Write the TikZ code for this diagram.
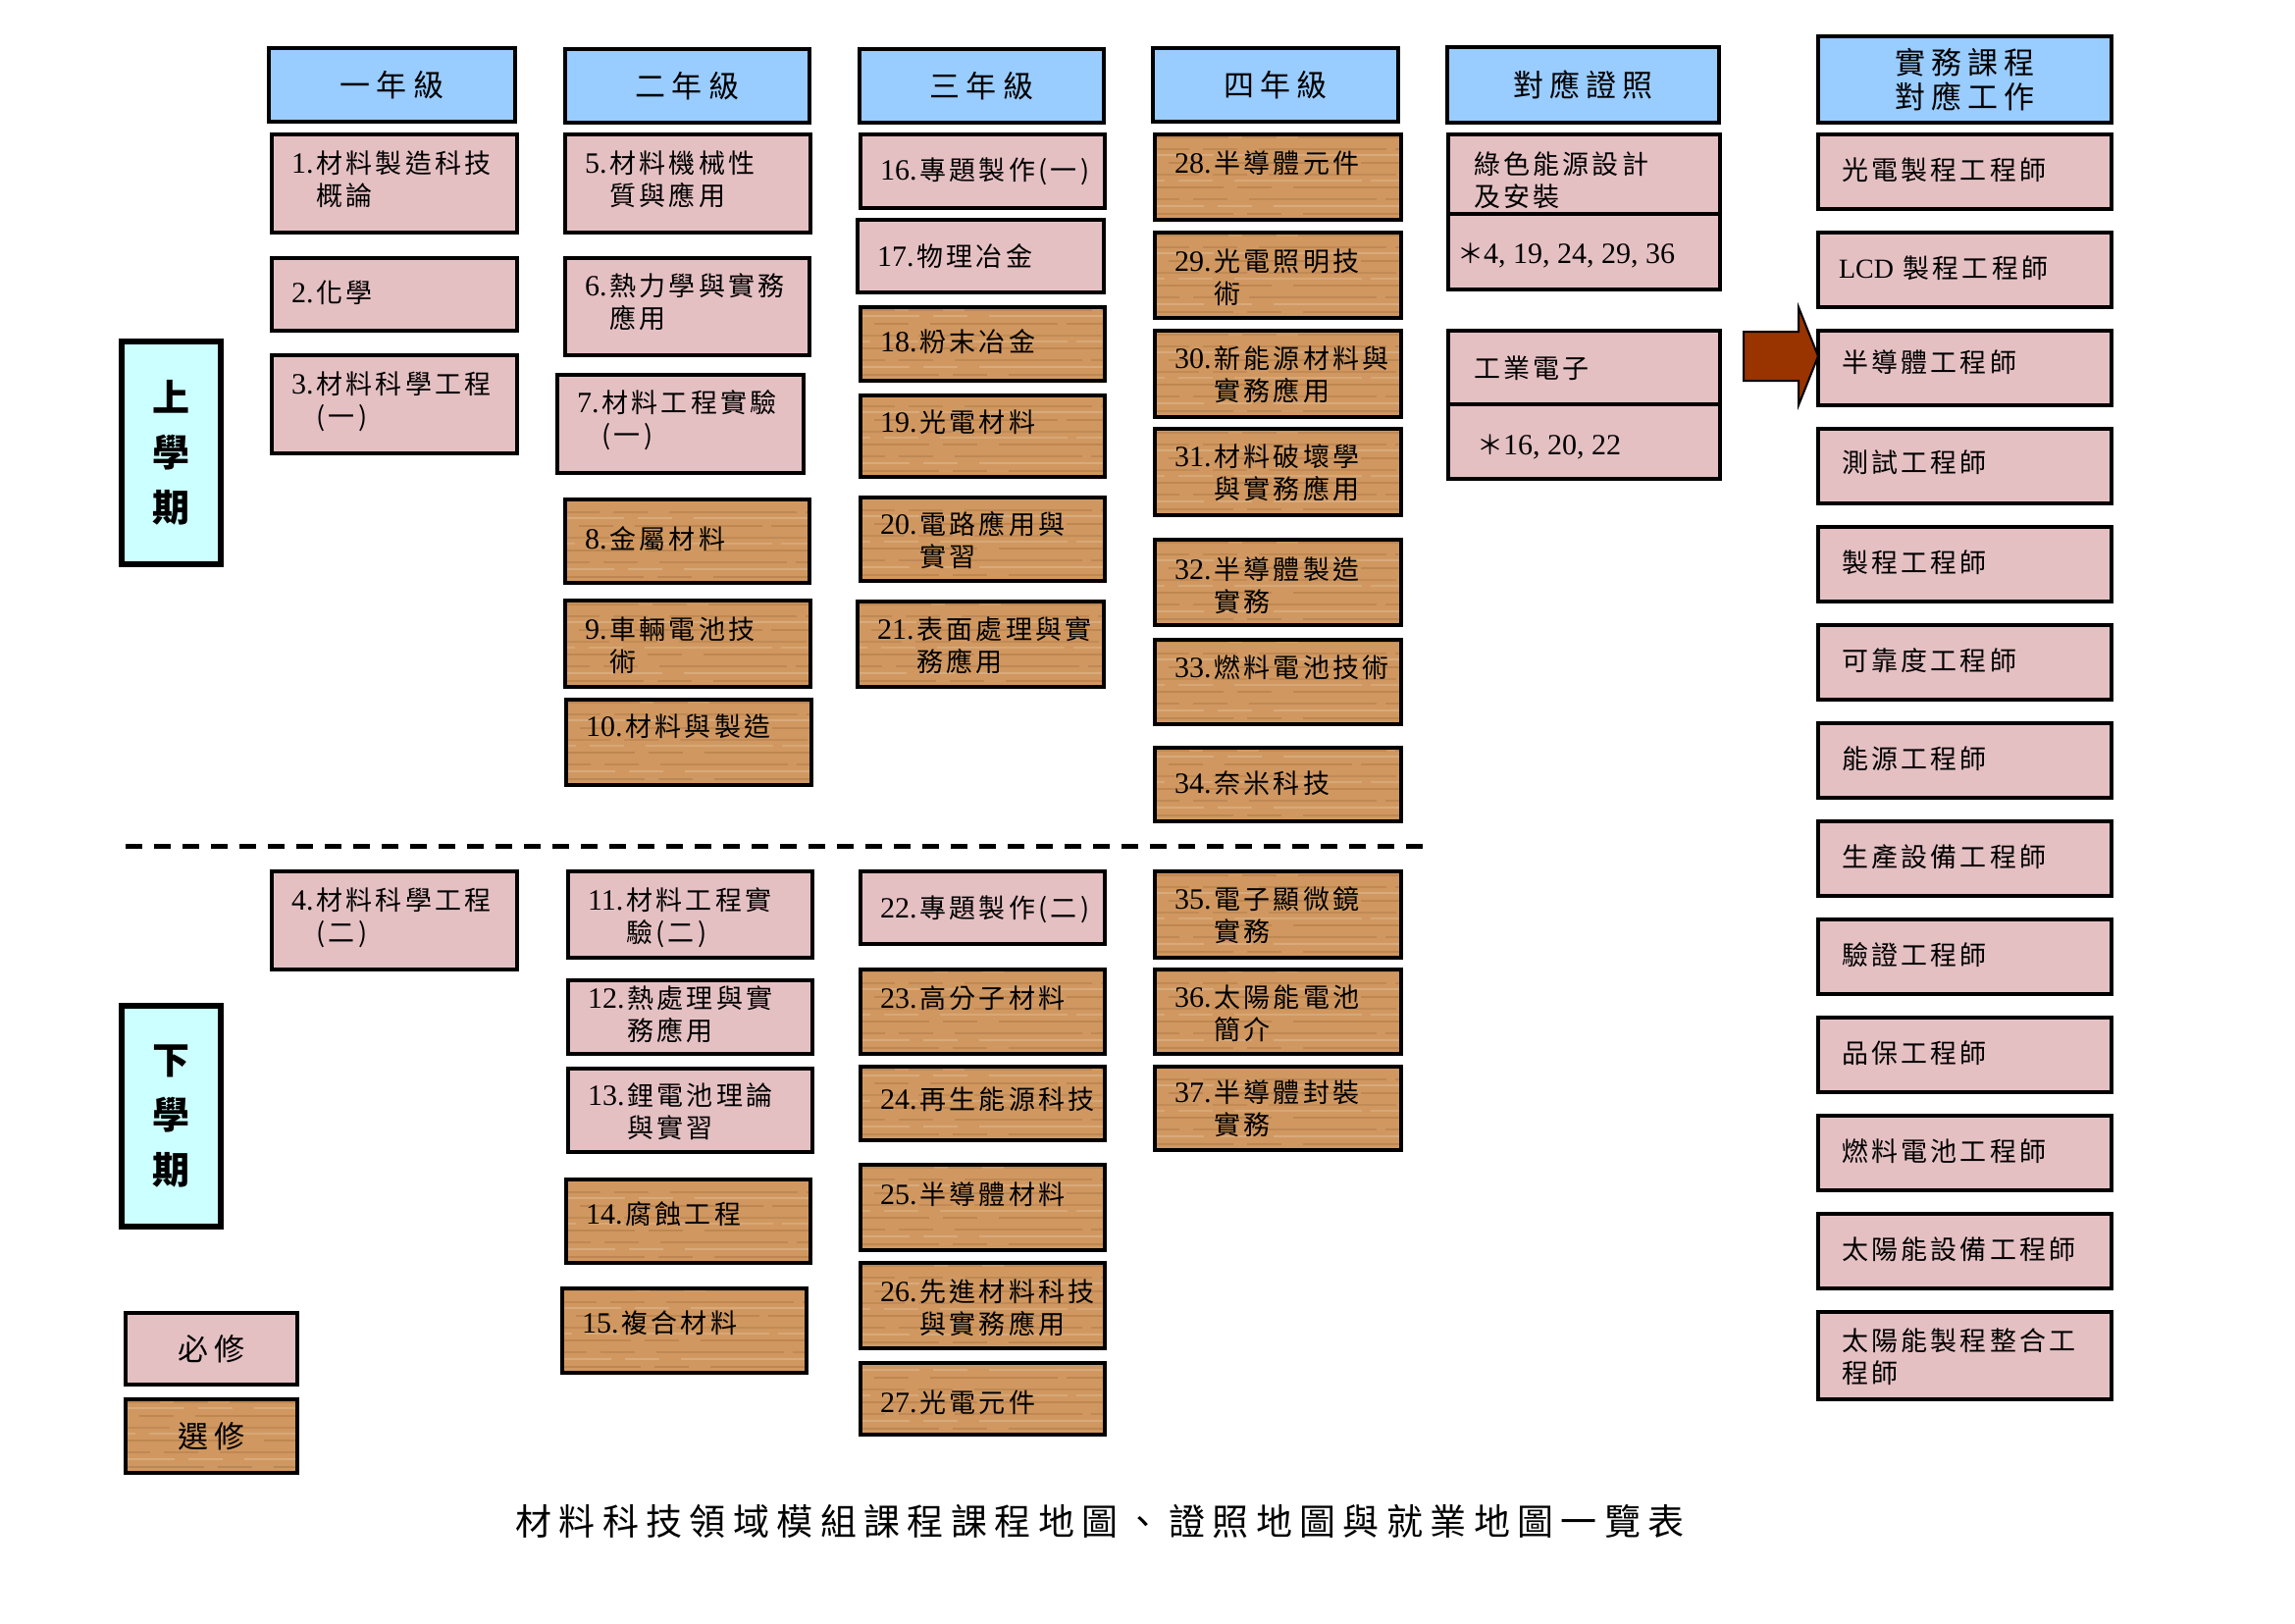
\documentclass[tikz,border=0pt]{standalone}
\usepackage{fontspec}
\setmainfont{Noto Sans CJK TC}
\newfontfamily\cjk{Noto Sans CJK TC}[LetterSpace=12]
\newfontfamily\hdf{Noto Sans CJK TC}[LetterSpace=20]
\newfontfamily\lat{Liberation Serif}
\usetikzlibrary{calc}

\definecolor{headblue}{RGB}{153,204,255}
\definecolor{sidecyan}{RGB}{204,255,255}
\definecolor{pinkc}{RGB}{229,192,195}
\definecolor{woodc}{RGB}{208,152,96}
\definecolor{grainc}{RGB}{145,92,45}
\definecolor{arrowc}{RGB}{153,51,0}

\newcommand\cnum[1]{{\lat\fontsize{30}{33}\selectfont #1}}

\tikzset{
  frame/.style={draw=black, line width=3.5pt, inner sep=0pt, outer sep=0pt},
  headbox/.style={frame, fill=headblue, font=\hdf\fontsize{31}{35}\selectfont, align=center},
  pinkbox/.style={frame, fill=pinkc},
  woodbox/.style={frame, fill=woodc, path picture={
      \foreach \yy/\ph/\op/\cc in {6/0/.28/grainc, 14/30/.18/white, 21/55/.25/grainc, 33/10/.28/grainc,
                                 40/70/.15/white, 46/35/.22/grainc, 58/80/.28/grainc, 66/20/.18/white,
                                 72/45/.25/grainc, 84/5/.25/grainc, 93/60/.22/grainc}{
        \draw[color=\cc, line width=1.2pt, opacity=\op,
              dash pattern=on 80pt off 14pt on 35pt off 22pt on 130pt off 9pt, dash phase=\ph pt]
          ([yshift=\yy pt]path picture bounding box.south west) --
          ([yshift=\yy pt]path picture bounding box.south east);
      }}},
  ctext/.style={font=\cjk\fontsize{27}{33}\selectfont, inner sep=0pt, outer sep=0pt},
  sidebox/.style={draw=black, line width=6pt, fill=sidecyan, inner sep=0pt,
      font=\cjk\bfseries\fontsize{38}{56}\selectfont, align=center},
  legtext/.style={font=\hdf\fontsize{31}{35}\selectfont},
  dashline/.style={line width=5pt, dash pattern=on 17pt off 12pt},
  arrowst/.style={draw=black, line width=2pt, fill=arrowc, line join=miter},
  titlef/.style={font=\hdf\fontsize{37}{40}\selectfont, inner sep=0pt}
}

% generic box: name, style, x1, y1, x2, y2, text x, text centre y, text
\newcommand\tbox[9]{%
  \node[#2, minimum width={#5-#3}, minimum height={#6-#4}] (#1) at ({(#3+#5)/2},{(#4+#6)/2}) {};
  \node[ctext, anchor=base west] (#1t) at ({#7},{#8+10}) {#9};}
% course box: name, style, x1, y1, x2, y2, text centre y, number, text
\newcommand\crs[9]{\tbox{#1}{#2}{#3}{#4}{#5}{#6}{#3+20}{#7}{\cnum{#8}\hspace{3pt}\begin{tabular}[t]{@{}l@{}}#9\end{tabular}}}
% header
\newcommand\hd[6]{\node[headbox, minimum width={#4-#2}, minimum height={#5-#3}] (#1) at ({(#2+#4)/2},{(#3+#5)/2}) {#6};}

\begin{document}
\begin{tikzpicture}[x=1pt,y=-1pt]
\useasboundingbox (0,0) rectangle (2339,1654);
\fill[white] (0,0) rectangle (2339,1654);

% headers
\hd{h1}{274}{49}{525}{124}{一年級}
\hd{h2}{576}{50}{825}{125}{二年級}
\hd{h3}{876}{50}{1125}{125}{三年級}
\hd{h4}{1175}{49}{1425}{124}{四年級}
\hd{h5}{1475}{48}{1752}{125}{對應證照}
\hd{h6}{1853}{37}{2152}{125}{實務課程\\對應工作}

% semester labels
\node[sidebox, minimum width=101, minimum height=227] (s1) at (174.5,461.5) {上\\學\\期};
\node[sidebox, minimum width=101, minimum height=225] (s2) at (174.5,1137.5) {下\\學\\期};

% legend
\node[pinkbox, legtext, minimum width=175, minimum height=73] (lg1) at (215.5,1374.5) {必修};
\node[woodbox, legtext, minimum width=175, minimum height=75] (lg2) at (215.5,1463.5) {選修};

% dashed semester divider
\coordinate (dl1) at (128,862);
\coordinate (dl2) at (1454,862);
\draw[dashline] (dl1) -- (dl2);

% year 1
\crs{c1}{pinkbox}{277}{137}{527}{237}{166}{1.}{材料製造科技\\概論}
\crs{c2}{pinkbox}{277}{263}{527}{337}{298}{2.}{化學}
\crs{c3}{pinkbox}{277}{362}{527}{462}{391}{3.}{材料科學工程\\(一)}
\crs{c4}{pinkbox}{277}{888}{527}{988}{917}{4.}{材料科學工程\\(二)}
% year 2
\crs{c5}{pinkbox}{576}{137}{826}{237}{166}{5.}{材料機械性\\質與應用}
\crs{c6}{pinkbox}{576}{263}{825}{362}{291}{6.}{熱力學與實務\\應用}
\crs{c7}{pinkbox}{568}{382}{819}{482}{410}{7.}{材料工程實驗\\(一)}
\crs{c8}{woodbox}{576}{509}{825}{594}{549}{8.}{金屬材料}
\crs{c9}{woodbox}{576}{612}{826}{700}{641}{9.}{車輛電池技\\術}
\crs{c10}{woodbox}{577}{713}{827}{800}{740}{10.}{材料與製造}
\crs{c11}{pinkbox}{579}{888}{828}{976}{917}{11.}{材料工程實\\驗(二)}
\crs{c12}{pinkbox}{579}{999}{828}{1074}{1017}{12.}{熱處理與實\\務應用}
\crs{c13}{pinkbox}{579}{1089}{828}{1174}{1116}{13.}{鋰電池理論\\與實習}
\crs{c14}{woodbox}{577}{1202}{826}{1287}{1237}{14.}{腐蝕工程}
\crs{c15}{woodbox}{573}{1313}{822}{1399}{1348}{15.}{複合材料}
% year 3
\crs{c16}{pinkbox}{877}{137}{1126}{212}{173}{16.}{專題製作(一)}
\crs{c17}{pinkbox}{874}{224}{1125}{298}{261}{17.}{物理冶金}
\crs{c18}{woodbox}{877}{313}{1126}{388}{348}{18.}{粉末冶金}
\crs{c19}{woodbox}{877}{403}{1126}{486}{430}{19.}{光電材料}
\crs{c20}{woodbox}{877}{507}{1126}{592}{534}{20.}{電路應用與\\實習}
\crs{c21}{woodbox}{874}{613}{1125}{700}{641}{21.}{表面處理與實\\務應用}
\crs{c22}{pinkbox}{877}{888}{1126}{962}{925}{22.}{專題製作(二)}
\crs{c23}{woodbox}{877}{988}{1126}{1074}{1017}{23.}{高分子材料}
\crs{c24}{woodbox}{877}{1087}{1126}{1162}{1120}{24.}{再生能源科技}
\crs{c25}{woodbox}{877}{1187}{1126}{1274}{1217}{25.}{半導體材料}
\crs{c26}{woodbox}{877}{1287}{1126}{1374}{1316}{26.}{先進材料科技\\與實務應用}
\crs{c27}{woodbox}{877}{1389}{1126}{1462}{1429}{27.}{光電元件}
% year 4
\crs{c28}{woodbox}{1177}{137}{1428}{224}{166}{28.}{半導體元件}
\crs{c29}{woodbox}{1177}{237}{1428}{324}{266}{29.}{光電照明技\\術}
\crs{c30}{woodbox}{1177}{337}{1428}{425}{365}{30.}{新能源材料與\\實務應用}
\crs{c31}{woodbox}{1177}{437}{1428}{525}{465}{31.}{材料破壞學\\與實務應用}
\crs{c32}{woodbox}{1177}{550}{1428}{637}{580}{32.}{半導體製造\\實務}
\crs{c33}{woodbox}{1177}{652}{1428}{738}{680}{33.}{燃料電池技術}
\crs{c34}{woodbox}{1177}{762}{1428}{837}{798}{34.}{奈米科技}
\crs{c35}{woodbox}{1177}{888}{1428}{976}{916}{35.}{電子顯微鏡\\實務}
\crs{c36}{woodbox}{1177}{988}{1428}{1074}{1016}{36.}{太陽能電池\\簡介}
\crs{c37}{woodbox}{1177}{1087}{1428}{1172}{1113}{37.}{半導體封裝\\實務}

% certificates
\tbox{k1a}{pinkbox}{1476}{137}{1753}{218}{1502}{167}{\begin{tabular}[t]{@{}l@{}}綠色能源設計\\及安裝\end{tabular}}
\tbox{k1b}{pinkbox}{1476}{218}{1753}{295}{1485}{258}{＊\cnum{4, 19, 24, 29, 36}}
\tbox{k2a}{pinkbox}{1476}{337}{1753}{412}{1502}{375}{工業電子}
\tbox{k2b}{pinkbox}{1476}{412}{1753}{488}{1505}{453}{＊\cnum{16, 20, 22}}

% jobs
\tbox{j1}{pinkbox}{1853}{137}{2152}{213}{1877}{173}{光電製程工程師}
\tbox{j2}{pinkbox}{1853}{237}{2152}{313}{1874}{273}{{\lat\fontsize{28}{33}\selectfont LCD} 製程工程師}
\tbox{j3}{pinkbox}{1853}{337}{2152}{413}{1877}{369}{半導體工程師}
\tbox{j4}{pinkbox}{1853}{437}{2152}{513}{1877}{471}{測試工程師}
\tbox{j5}{pinkbox}{1853}{537}{2152}{613}{1877}{573}{製程工程師}
\tbox{j6}{pinkbox}{1853}{637}{2152}{713}{1877}{673}{可靠度工程師}
\tbox{j7}{pinkbox}{1853}{737}{2152}{813}{1877}{773}{能源工程師}
\tbox{j8}{pinkbox}{1853}{837}{2152}{913}{1877}{873}{生產設備工程師}
\tbox{j9}{pinkbox}{1853}{937}{2152}{1013}{1877}{973}{驗證工程師}
\tbox{j10}{pinkbox}{1853}{1037}{2152}{1113}{1877}{1073}{品保工程師}
\tbox{j11}{pinkbox}{1853}{1137}{2152}{1213}{1877}{1173}{燃料電池工程師}
\tbox{j12}{pinkbox}{1853}{1237}{2152}{1313}{1877}{1273}{太陽能設備工程師}
\tbox{j13}{pinkbox}{1853}{1337}{2152}{1426}{1877}{1366}{\begin{tabular}[t]{@{}l@{}}太陽能製程整合工\\程師\end{tabular}}

% block arrow pointing at the semiconductor engineer box
\draw[arrowst] ([yshift=12pt]j3.west) -- ++(-20,-50) -- ++(0,25) -- ++(-56,0) -- ++(0,50)
  -- ++(56,0) -- ++(0,25) -- cycle;

% title
\node[titlef] (title) at (1121,1550) {材料科技領域模組課程課程地圖、證照地圖與就業地圖一覽表};
\end{tikzpicture}
\end{document}
